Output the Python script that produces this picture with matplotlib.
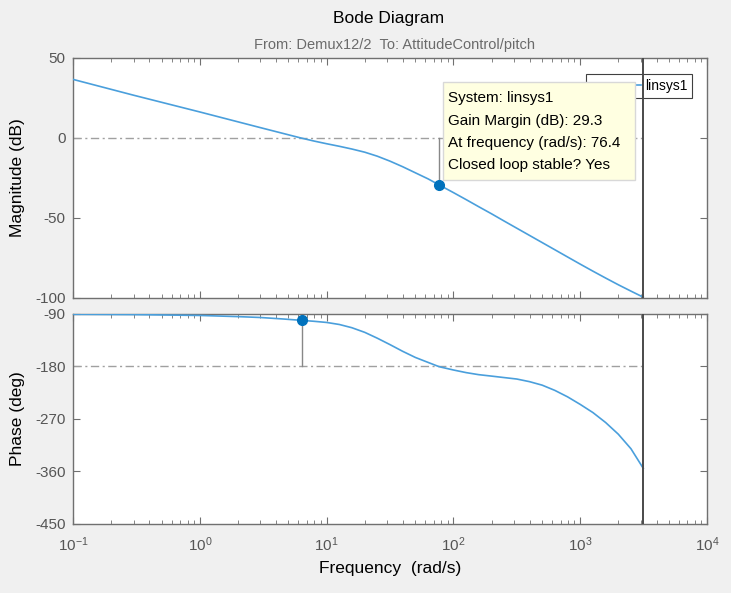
import numpy as np
import matplotlib
matplotlib.use('Agg')
import matplotlib.pyplot as plt
from matplotlib.patches import Rectangle

plt.rcParams['font.family'] = ['Liberation Sans', 'DejaVu Sans']
plt.rcParams['axes.unicode_minus'] = False

# values
w_mag = [0.1, 0.3, 1, 3, 6.2, 7.94, 10, 12.6, 15.8, 20, 25.1, 31.6, 39.8, 50.1, 63.1, 76.4,
         100, 126, 158, 200, 251, 316, 398, 501, 631, 794, 1000, 1259, 1585, 1995, 2512, 3141.6]
mag_db = [36.6, 26.7, 16.2, 6.4, 0, -2.0, -3.7, -5.3, -7.0, -9.0, -11.5, -14.6, -18.1, -21.9, -25.7, -29.3,
          -34.3, -38.7, -43.1, -47.6, -52.1, -56.6, -61.1, -65.6, -70.1, -74.6, -79.1, -83.5, -87.8,
          -92.0, -96.0, -99.8]

w_ph = [0.1, 0.3, 1, 2, 3, 4.5, 6.43, 7.94, 10, 12.6, 15.8, 20, 25.1, 31.6, 39.8, 50.1, 63.1, 76.4,
        79.4, 100, 126, 158, 200, 251, 316, 398, 501, 631, 794, 1000, 1259, 1585, 1995, 2512, 3141.6]
phase = [-90.5, -91, -92.5, -94.5, -96, -98.5, -101, -102.5, -104.5, -108, -113.5, -121.5, -131.5,
         -142.5, -154, -164.5, -173, -180, -181, -186, -190.5, -194, -196.5, -199, -201.5, -206,
         -212, -221, -232, -245, -259, -276, -296, -321, -354.6]

w_nyq = 3141.6
gm_w, gm_db = 76.4, -29.3
pm_w, pm_ph = 6.43, -101

blue = '#4a9fdc'
dot = '#0072bd'
axcol = '#707070'
tickcol = '#555555'
dashdot = (6, 2.5, 1.5, 2.5)

fig = plt.figure(figsize=(7.31, 5.93), dpi=100, facecolor='#f0f0f0')
ax1 = fig.add_axes([0.0999, 0.4983, 0.8673, 0.4039])
ax2 = fig.add_axes([0.0999, 0.1164, 0.8673, 0.3541])

for ax in (ax1, ax2):
    ax.set_facecolor('white')
    ax.set_xscale('log')
    ax.set_xlim(0.1, 1e4)
    for s in ax.spines.values():
        s.set_color(axcol)
        s.set_linewidth(1)
    ax.tick_params(which='both', direction='in', top=True, right=True,
                   colors=axcol, labelcolor=tickcol, labelsize=11, pad=5.5)
    ax.tick_params(which='major', length=5)
    ax.tick_params(which='minor', length=3)
    ax.tick_params(axis='x', pad=8.5)
    ax.axvline(w_nyq, color='#4a4a4a', lw=1.4, zorder=4)

# magnitude
ax1.plot(w_mag, mag_db, color=blue, lw=1.2, label='linsys1', zorder=3)
ax1.plot([0.1, w_nyq], [0, 0], color='#a0a0a0', lw=1, ls='-.', dashes=dashdot, zorder=2)
ax1.plot([gm_w, gm_w], [0, gm_db], color='#888888', lw=1, zorder=2)
ax1.plot(gm_w, gm_db, 'o', color=dot, ms=7, zorder=6)
ax1.set_ylim(-100, 50)
ax1.set_yticks([-100, -50, 0, 50])
ax1.tick_params(labelbottom=False)
ax1.set_ylabel('Magnitude (dB)', fontsize=12.5, color='black')
ax1.yaxis.set_label_coords(-0.076, 0.5)

leg = ax1.legend(loc='upper right', bbox_to_anchor=(0.9763, 0.9332), fontsize=10,
                 fancybox=False, framealpha=1, edgecolor='#404040', borderaxespad=0,
                 handlelength=3.6, handletextpad=0.3, borderpad=0.35)
leg.get_frame().set_linewidth(0.8)
leg.set_zorder(2)

# tooltip
ax1.add_patch(Rectangle((0.5836, 0.4906), 0.3028, 0.4092, transform=ax1.transAxes,
                        facecolor='#ffffe1', edgecolor='#d8d8d8', lw=1, zorder=7))
tip = ['System: linsys1', 'Gain Margin (dB): 29.3',
       'At frequency (rad/s): 76.4', 'Closed loop stable? Yes']
for i, t in enumerate(tip):
    ax1.text(0.592, 0.832 - i * 0.0935, t, transform=ax1.transAxes, fontsize=11,
             va='center', ha='left', color='black', zorder=8)

# phase
ax2.plot(w_ph, phase, color=blue, lw=1.2, zorder=3)
ax2.plot([0.1, w_nyq], [-180, -180], color='#a0a0a0', lw=1, ls='-.', dashes=dashdot, zorder=2)
ax2.plot([pm_w, pm_w], [pm_ph, -180], color='#888888', lw=1, zorder=2)
ax2.plot(pm_w, pm_ph, 'o', color=dot, ms=7, zorder=6)
ax2.set_ylim(-450, -90)
ax2.set_yticks([-450, -360, -270, -180, -90])
ax2.set_ylabel('Phase (deg)', fontsize=12.5, color='black')
ax2.yaxis.set_label_coords(-0.076, 0.5)
ax2.set_xlabel('Frequency  (rad/s)', fontsize=12.5, color='black')
ax2.xaxis.set_label_coords(0.5, -0.175)

fig.text(0.531, 0.968, 'Bode Diagram', ha='center', va='center', fontsize=12.5, color='black')
fig.text(0.54, 0.924, 'From: Demux12/2  To: AttitudeControl/pitch', ha='center', va='center',
         fontsize=10.5, color='#6a6a6a')

fig.savefig('out.png', dpi=100, facecolor=fig.get_facecolor())
